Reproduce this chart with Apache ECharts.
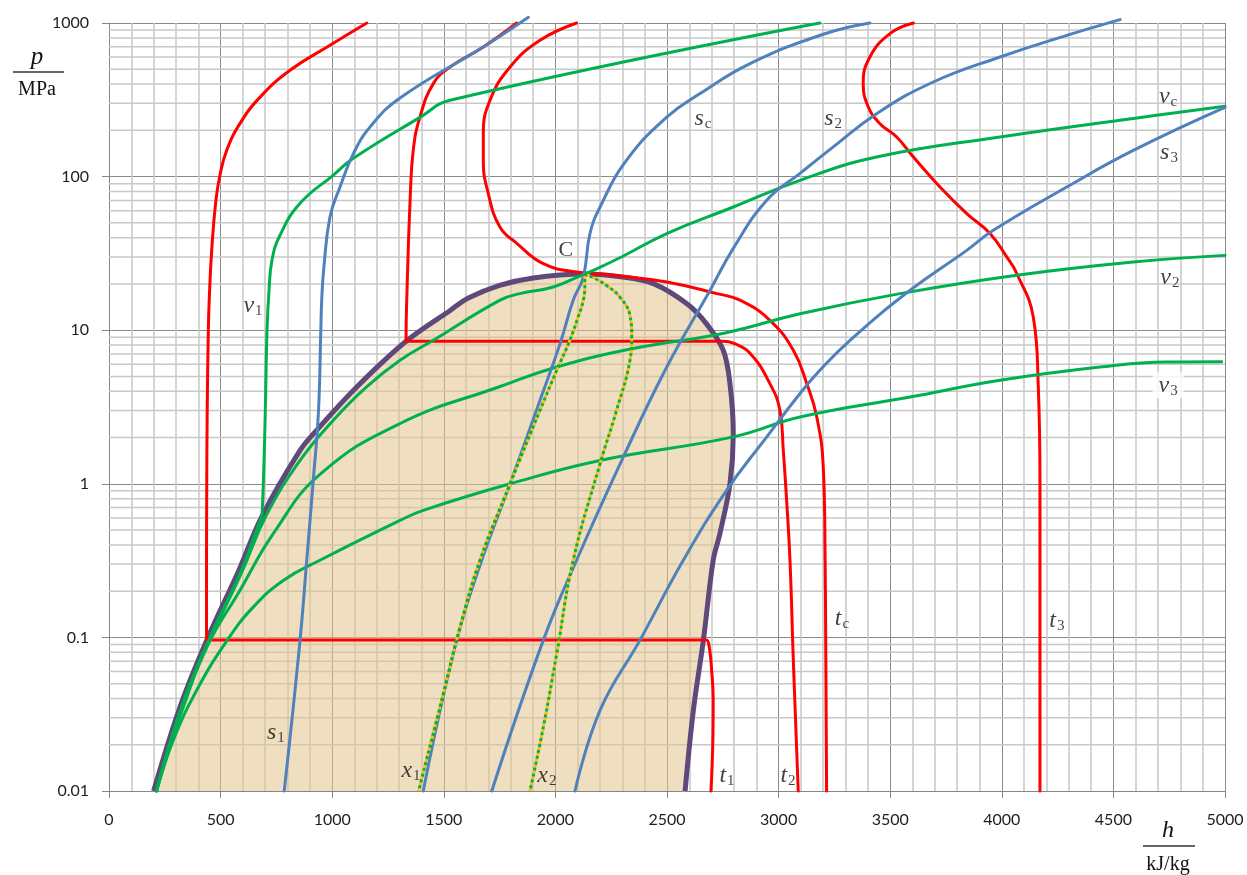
<!DOCTYPE html>
<html>
<head>
<meta charset="utf-8">
<script src="https://cdn.jsdelivr.net/npm/echarts@6/dist/echarts.min.js"></script>
<style>html,body{margin:0;padding:0;background:#fff}#c{width:1247px;height:875px}</style>
</head>
<body>
<div id="c"></div>
<script>
// ---------- axis ticks ----------
const xTickValues = [0,500,1000,1500,2000,2500,3000,3500,4000,4500,5000];
const yTickLabels = ['0.01','0.1','1','10','100','1000'];
const pDecades = [0.01,0.1,1,10,100];
const pMinorSteps = [2,3,4,5,6,7,8,9];

// ---------- saturation dome (h kJ/kg, p MPa) ----------
const domeLeft = [[200,0.01],[318,0.0352],[438,0.0958],[580,0.27],[684,0.61],[856,1.65],[930,2.23],[1110,4.27],[1331,8.47],[1530,13.5],[1610,16.2],[1750,19.6],[1901,21.9],[2130,23.2]];
const domeRight = [[2300,22.2],[2439,20.1],[2588,14.9],[2677,11.0],[2752,7.4],[2782,4.49],[2797,2.12],[2782,1.0],[2737,0.474],[2707,0.318],[2663,0.0958],[2618,0.0335],[2581,0.01]];

// ---------- isotherms (red) ----------
const t1 = [[1155,1000],[990,716],[811,492],[676,328],[587,222],[527,148],[497,102],[479,70],[460,33],[449,15.7],[445,10],[440,3],[438,1],[437,0.3],[437,0.11],[437,0.096],[450,0.096],[2660,0.096],[2677,0.096],[2690,0.085],[2700,0.061],[2707,0.039],[2705,0.02],[2697,0.01]];
const t2 = [[1827,1000],[1677,698],[1528,517],[1453,403],[1393,244],[1363,148],[1349,70],[1334,15.7],[1331,9.2],[1331,8.47],[1345,8.47],[2735,8.47],[2752,8.47],[2800,8.2],[2873,7.05],[2961,4.49],[3006,3.01],[3021,1.65],[3036,0.78],[3051,0.318],[3066,0.071],[3088,0.01]];
const tc = [[2095,1000],[1931,771],[1797,517],[1707,314],[1677,191],[1677,128],[1699,77.8],[1752,46.8],[1827,36.8],[1946,27.1],[2095,23.9],[2259,22.8],[2499,20.6],[2723,17.3],[2827,15.7],[2961,11.6],[3066,7.4],[3126,4.5],[3171,2.72],[3200,1.29],[3208,0.37],[3215,0.01]];
const t3 = [[3604,1000],[3499,853],[3409,601],[3379,403],[3402,284],[3454,221],[3529,181],[3604,134],[3723,85.5],[3843,57.4],[3947,42.6],[4022,30],[4067,23.4],[4141,12.2],[4163,4.49],[4171,1.01],[4171,0.01]];

// ---------- isentropes (blue) ----------
const s1 = [[785,0.01],[856,0.096],[886,0.318],[915,1.05],[938,2.86],[949,10],[953,15.7],[962,25],[990,54.6],[1035,85.5],[1095,141],[1169,210],[1304,325],[1677,698],[1879,1089]];
const sc = [[1408,0.01],[1558,0.096],[1677,0.34],[1797,1.0],[1931,3.5],[2021,8.18],[2080,15.7],[2125,22.2],[2155,42.6],[2200,63.4],[2319,128],[2499,244],[2648,347],[2872,544],[3200,845],[3409,1000]];
const s2 = [[1715,0.01],[1946,0.096],[2095,0.318],[2304,1.49],[2499,5.76],[2693,18.2],[2797,34.1],[2947,70.1],[3096,105],[3245,156],[3439,257],[3693,413],[3992,601],[4291,831],[4530,1052]];
const s3 = [[2088,0.01],[2200,0.0335],[2379,0.096],[2573,0.318],[2767,0.907],[2947,2.02],[3096,3.87],[3185,5.48],[3320,8.6],[3589,18.2],[3843,33.1],[3962,44.7],[4291,85.5],[4589,148],[5000,282]];

// ---------- isochores (green) ----------
const v1 = [[3185,1000],[1528,314],[1393,243],[1093,131],[1004,102],[856,67],[766,41.5],[730,28.5],[717,18.2],[708,10],[700,2.86],[692,1.05],[686,0.64],[684,0.61],[680,0.59],[650,0.45],[592,0.27],[447,0.096],[325,0.0352],[212,0.01]];
const vc = [[5000,287],[4589,239],[3992,181],[3439,134],[3096,94.6],[2797,63.4],[2499,42.6],[2300,30.2],[2140,23.4],[2130,23.2],[1990,19.1],[1841,17.3],[1752,15.7],[1453,8.6],[1304,6.37],[1154,4.27],[1005,2.59],[856,1.42],[703,0.617],[597,0.27],[452,0.096],[327,0.0352],[213,0.01]];
const v2 = [[5000,30.7],[4589,27.8],[4067,22.8],[3544,17.3],[3096,12.8],[2760,9.6],[2349,7.59],[2006,5.76],[1752,4.3],[1304,2.47],[945,1.15],[736,0.474],[587,0.203],[438,0.0866],[333,0.0352],[258,0.0166],[213,0.01]];
const v3 = [[4985,6.23],[4739,6.21],[4440,5.76],[3992,4.72],[3589,3.67],[3096,2.72],[2797,2.02],[2200,1.42],[1797,1.0],[1408,0.672],[1304,0.578],[945,0.318],[781,0.235],[647,0.158],[530,0.096],[393,0.0453],[288,0.0214],[213,0.01]];

// ---------- constant quality (dotted) ----------
const x1 = [[1387,0.01],[1498,0.0431],[1573,0.117],[1662,0.318],[1797,1.0],[1931,3.01],[2006,5.48],[2065,8.6],[2100,12],[2125,15.7],[2132,20],[2130,23.2]];
const x2 = [[1886,0.01],[1946,0.0261],[2006,0.0784],[2080,0.318],[2200,1.35],[2274,3.01],[2334,6.37],[2342,9],[2334,12.5],[2289,16.4],[2230,19.5],[2170,22],[2130,23.2]];

// ---------- curve labels ----------
const labelMain = ['C','v','s','s','v','s','v','v','t','t','t','t','s','x','x'];
const labelSub  = ['', '1','c','2','c','3','2','3','c','3','1','2','1','1','2'];
const labelH    = [2047,645,2661,3244,4745,4749,4753,4745,3284,4247,2769,3042,748,1353,1962];
const labelP    = [33.1,14.5,240,240,333,144,22.1,4.38,0.133,0.129,0.01265,0.01265,0.0241,0.01364,0.01265];

// ---------- build ----------
const RED='#ff0000', BLUE='#4f81bd', GREEN='#00b050', PURPLE='#5f497a', ORANGE='#ffc000';
const minorP = [];
pDecades.forEach(d => pMinorSteps.forEach(k => minorP.push(+(d*k).toPrecision(3))));

function curve(data, color, width, z, extra){
  return Object.assign({
    type:'line', data:data, symbol:'none', showSymbol:false, smooth:0.45, clip:false,
    silent:true, animation:false, z:z,
    lineStyle:{color:color, width:width, cap:'round', join:'round'}
  }, extra||{});
}

const domeOutline = domeLeft.concat(domeRight);
const domeFill = domeOutline.concat([[2560,0.01],[220,0.01]]);

const labelData = labelH.map((h,i)=>{
  const main = labelMain[i], sub = labelSub[i];
  const txt = (main==='C') ? '{c|C}' : '{m|'+main+'}{s|'+sub+'}';
  const item = {value:[h,labelP[i]]};
  if (i===7) item.label = {backgroundColor:'#ffffff', padding:[1,6,1,6]};
  item.txt = txt;
  return item;
});

const chart = echarts.init(document.getElementById('c'), null, {renderer:'canvas', width:1247, height:875});

const option = {
  animation:false,
  backgroundColor:'#ffffff',
  tooltip:{show:false},
  grid:{left:109, right:22, top:23, bottom:84, containLabel:false},
  xAxis:{
    type:'value', min:0, max:5000, interval:500,
    axisLine:{show:true, onZero:false, lineStyle:{color:'#868686', width:1}},
    axisTick:{show:true, length:7, lineStyle:{color:'#868686'}},
    axisLabel:{margin:21, fontFamily:'Lato', fontSize:16, color:'#1e1e1e',
      formatter:(v)=>String(xTickValues[Math.round(v/500)])},
    splitLine:{show:true, lineStyle:{color:'#8a8a8a', width:1}},
    minorTick:{show:false, splitNumber:5},
    minorSplitLine:{show:true, lineStyle:{color:'#c8c8c8', width:1.5}}
  },
  yAxis:{
    type:'log', logBase:10, min:0.01, max:1000,
    axisLine:{show:true, onZero:false, lineStyle:{color:'#868686', width:1}},
    axisTick:{show:true, length:7, lineStyle:{color:'#868686'}},
    axisLabel:{margin:20, fontFamily:'Lato', fontSize:16, color:'#1e1e1e',
      formatter:(v)=>yTickLabels[Math.round(Math.log10(v))+2]},
    splitLine:{show:true, lineStyle:{color:'#8a8a8a', width:1}}
  },
  graphic:[
    {type:'text', x:37, y:57, style:{text:'p', fontFamily:'Liberation Serif', fontStyle:'italic', fontSize:25, fill:'#111', align:'center', verticalAlign:'middle'}},
    {type:'line', shape:{x1:13, y1:72, x2:64, y2:72}, style:{stroke:'#333', lineWidth:1.3}},
    {type:'text', x:37, y:90, style:{text:'MPa', fontFamily:'Liberation Serif', fontSize:20, fill:'#111', align:'center', verticalAlign:'middle'}},
    {type:'text', x:1168, y:831, style:{text:'h', fontFamily:'Liberation Serif', fontStyle:'italic', fontSize:24, fill:'#111', align:'center', verticalAlign:'middle'}},
    {type:'line', shape:{x1:1143, y1:846, x2:1195, y2:846}, style:{stroke:'#333', lineWidth:1.3}},
    {type:'text', x:1168, y:865, style:{text:'kJ/kg', fontFamily:'Liberation Serif', fontSize:20, fill:'#111', align:'center', verticalAlign:'middle'}}
  ],
  series:[
    // minor horizontal (logarithmic) grid lines
    {
      type:'custom', z:1, silent:true, animation:false, clip:false,
      data: minorP.map(p=>[0,p]),
      encode:{x:0,y:1},
      renderItem:(params, api)=>{
        const p = api.value(1);
        const a = api.coord([0,p]), b = api.coord([5000,p]);
        return {type:'line', shape:{x1:a[0], y1:a[1], x2:b[0], y2:b[1]}, style:{stroke:'#c8c8c8', lineWidth:1.5}, silent:true};
      }
    },
    // two-phase region fill + saturation curve
    {
      type:'custom', z:2, silent:true, animation:false, clip:false,
      data: domeOutline,
      encode:{x:0,y:1},
      renderItem:(params, api)=>{
        if (params.dataIndex!==0) return null;
        const fp = domeFill.map(d=>api.coord(d));
        const op = domeOutline.map(d=>api.coord(d));
        return {type:'group', children:[
          {type:'polygon', shape:{points:fp, smooth:0.35}, style:{fill:'rgba(226,196,140,0.55)', stroke:null}, silent:true},
          {type:'polyline', shape:{points:op, smooth:0.35}, style:{stroke:PURPLE, lineWidth:5, fill:null, lineJoin:'round', lineCap:'butt'}, silent:true}
        ]};
      }
    },
    curve(t1, RED, 3, 3),
    curve(t2, RED, 3, 3),
    curve(tc, RED, 3, 3),
    curve(t3, RED, 3, 3),
    curve(v1, GREEN, 3, 4),
    curve(vc, GREEN, 3, 4),
    curve(v2, GREEN, 3, 4),
    curve(v3, GREEN, 3, 4),
    curve(s1, BLUE, 3, 5),
    curve(sc, BLUE, 3, 5),
    curve(s2, BLUE, 3, 5),
    curve(s3, BLUE, 3, 5),
    curve(x1, ORANGE, 3, 6, {lineStyle:{color:ORANGE, width:3, type:[3,3], cap:'butt'}}),
    curve(x1, GREEN, 3, 7, {lineStyle:{color:GREEN, width:3, type:[3,3], dashOffset:3, cap:'butt'}}),
    curve(x2, ORANGE, 3, 6, {lineStyle:{color:ORANGE, width:3, type:[3,3], cap:'butt'}}),
    curve(x2, GREEN, 3, 7, {lineStyle:{color:GREEN, width:3, type:[3,3], dashOffset:3, cap:'butt'}}),
    // curve labels
    {
      type:'scatter', z:8, silent:true, animation:false, clip:false,
      symbolSize:0, symbol:'circle',
      itemStyle:{color:'rgba(0,0,0,0)'},
      data: labelData.map(d=>{ const o={value:d.value}; if(d.label) o.label=d.label; return o; }),
      label:{
        show:true, position:'inside', align:'center', verticalAlign:'middle',
        formatter:(p)=>labelData[p.dataIndex].txt,
        rich:{
          c:{fontFamily:'Liberation Serif', fontSize:22, color:'#111', lineHeight:24},
          m:{fontFamily:'Liberation Serif', fontStyle:'italic', fontSize:24, color:'#111', lineHeight:24, verticalAlign:'top'},
          s:{fontFamily:'Liberation Serif', fontSize:15, color:'#111', lineHeight:15, padding:[10,0,0,1], verticalAlign:'top'}
        }
      }
    }
  ]
};
chart.setOption(option);
</script>
</body>
</html>
